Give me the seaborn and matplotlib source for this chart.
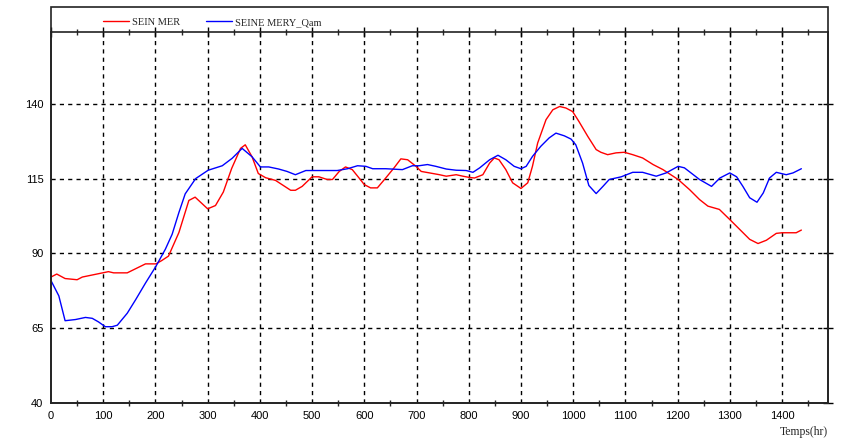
import numpy as np
import pandas as pd
import seaborn as sns
import matplotlib.pyplot as plt
from matplotlib.patches import Rectangle
from matplotlib.ticker import MultipleLocator

# SEIN MER (red)
t_mer = [0, 11, 27, 50, 60, 85, 110, 120, 146, 181, 201, 212, 225, 245, 264, 276, 300, 315, 330, 346,
         363, 372, 385, 397, 411, 430, 459, 468, 481, 500, 513, 529, 539, 552, 564, 577, 590, 600, 612, 625,
         641, 657, 670, 683, 699, 709, 725, 744, 757, 776, 789, 801, 811, 827, 840, 849, 858, 871, 884, 900,
         913, 922, 932, 948, 961, 974, 986, 999, 1011, 1028, 1044, 1053, 1066, 1082, 1098, 1114, 1133, 1153,
         1172, 1201, 1223, 1242, 1258, 1280, 1300, 1319, 1338, 1354, 1370, 1389, 1400, 1427, 1437]
v_mer = [82.1, 83.1, 81.6, 81.2, 82.1, 83, 83.9, 83.5, 83.5, 86.5, 86.5, 87.6, 89.1, 97, 107.7, 108.8, 104.9,
         106, 110.5, 118.4, 125.1, 126.3, 122.3, 116.7, 115.3, 114.4, 111.1, 111.1, 112.4, 115.6, 115.6, 114.7,
         114.7, 117.4, 118.9, 118, 115.2, 113, 111.9, 111.9, 115.2, 118.6, 121.6, 121.3, 119.1, 117.4, 116.9,
         116.3, 115.8, 116.3, 115.8, 115.4, 115.2, 116.3, 120.2, 121.9, 121.3, 118, 113.6, 111.7, 113.6, 119.1,
         126.9, 134.7, 138, 139.1, 138.6, 137.4, 134.1, 129.1, 124.7, 123.8, 123, 123.6, 123.8, 123, 121.9,
         119.7, 118, 114.7, 111.3, 108, 105.8, 104.7, 101.3, 98, 94.7, 93.3, 94.4, 96.7, 96.9, 96.9, 97.8]

# SEINE MERY_Qam (blue)
t_qam = [0, 15, 27, 47, 66, 79, 91, 104, 117, 127, 146, 162, 181, 201, 219, 232, 245, 257, 277, 301, 328,
         347, 366, 385, 401, 417, 436, 452, 468, 488, 504, 526, 548, 568, 587, 603, 616, 641, 673, 692, 705,
         721, 737, 757, 776, 795, 808, 821, 840, 856, 871, 887, 900, 910, 922, 938, 954, 967, 983, 996, 1005,
         1018, 1030, 1044, 1057, 1069, 1092, 1114, 1133, 1159, 1178, 1201, 1213, 1242, 1265, 1281, 1300,
         1313, 1325, 1338, 1352, 1364, 1376, 1389, 1408, 1421, 1437]
v_qam = [80.9, 75.8, 67.5, 67.9, 68.6, 68.3, 67.1, 65.5, 65.5, 66, 70, 74.5, 80.1, 85.7, 91.4, 96.4, 103.7,
         109.9, 115, 117.8, 119.3, 121.8, 125.1, 122.3, 118.9, 118.9, 118.2, 117.4, 116.3, 117.7, 117.7, 117.7,
         117.7, 118.3, 119.3, 119.1, 118.3, 118.3, 118, 119.3, 119.3, 119.7, 119.1, 118.2, 117.8, 117.7, 117.1,
         118.6, 121.3, 122.8, 121.3, 119.1, 118.3, 119.1, 122.4, 125.8, 128.6, 130.2, 129.3, 128.2, 126.3,
         120.2, 112.7, 110, 112.4, 114.7, 115.6, 117.1, 117.1, 115.8, 116.9, 119.1, 118.6, 114.7, 112.4, 115.2,
         116.9, 115.6, 112.4, 108.6, 107.1, 110.2, 115.2, 117.1, 116.3, 116.9, 118.3]

y_ticks = [40, 65, 90, 115, 140]

df = pd.concat([
    pd.DataFrame({'t': t_mer, 'v': v_mer, 'serie': 'SEIN MER'}),
    pd.DataFrame({'t': t_qam, 'v': v_qam, 'serie': 'SEINE MERY_Qam'}),
])

sns.set_style('white')
plt.rcParams['font.family'] = ['Liberation Sans', 'DejaVu Sans']

W, H = 841, 443
fig = plt.figure(figsize=(W / 100, H / 100), dpi=100)
ax = fig.add_axes([51 / W, (H - 403) / H, (828 - 51) / W, (403 - 32) / H])

sns.lineplot(data=df, x='t', y='v', hue='serie', palette=['#ff0000', '#0000ff'],
             linewidth=1.0, ax=ax, sort=False, estimator=None)

ax.set_xlim(0, 1488)
ax.set_ylim(40, 164)
ax.set_yticks(y_ticks)
ax.xaxis.set_major_locator(MultipleLocator(100))
ax.xaxis.set_minor_locator(MultipleLocator(50))
ax.tick_params(axis='both', which='major', direction='inout', length=7, width=1,
               labelsize=8, colors='black', top=True, right=True, pad=2)
ax.tick_params(axis='x', which='minor', direction='inout', length=4, width=1,
               top=True, bottom=True)
ax.set_xlabel('')
ax.set_ylabel('')

# dashed grid
for x in range(100, 1488, 100):
    ax.axvline(x, color='black', linestyle=(0, (3, 3)), linewidth=1, zorder=0)
for y in y_ticks[1:]:
    ax.axhline(y, color='black', linestyle=(0, (3, 3)), linewidth=1, zorder=0)

for s in ax.spines.values():
    s.set_color('#222222')
    s.set_linewidth(1.2)

# outer frame holding legend
fig.patches.append(Rectangle((51 / W, (H - 403) / H), (828 - 51) / W, (403 - 7) / H,
                             transform=fig.transFigure, fill=False, edgecolor='#222222',
                             linewidth=1.2))

ax.legend(loc='lower left', bbox_to_anchor=(0.06, 1.0), ncol=2, frameon=False,
          prop={'family': 'Liberation Serif', 'size': 7.5}, handlelength=2.5,
          columnspacing=2.5, handletextpad=0.3, borderaxespad=0.1)

fig.text(828 / W, (H - 432) / H, 'Temps(hr)', ha='right', va='center',
         family='Liberation Serif', fontsize=8.5)

fig.savefig('out.png', dpi=100)
